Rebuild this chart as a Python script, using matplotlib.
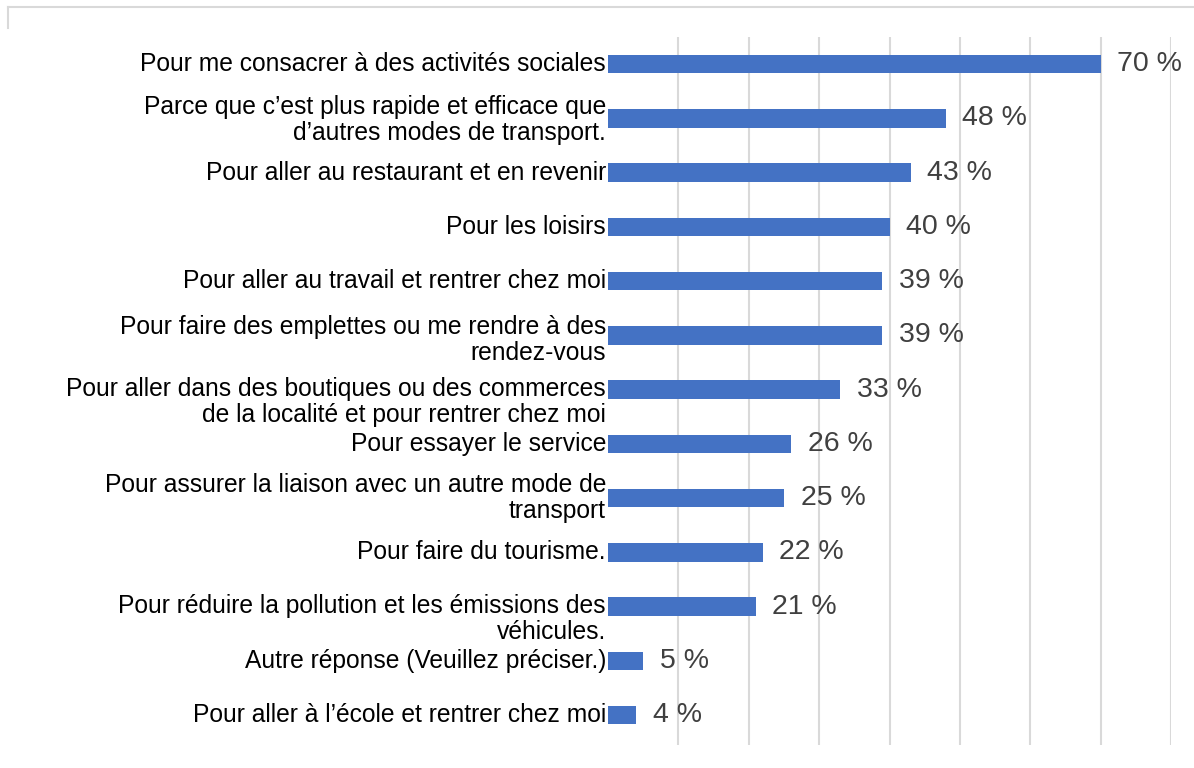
import matplotlib
matplotlib.use("Agg")
import matplotlib.pyplot as plt
from matplotlib.lines import Line2D
from matplotlib import transforms

plt.rcParams['font.family'] = ['Liberation Sans', 'DejaVu Sans']

categories = [
    "Pour me consacrer à des activités sociales",
    "Parce que c\u2019est plus rapide et efficace que\nd\u2019autres modes de transport.",
    "Pour aller au restaurant et en revenir",
    "Pour les loisirs",
    "Pour aller au travail et rentrer chez moi",
    "Pour faire des emplettes ou me rendre à des\nrendez-vous",
    "Pour aller dans des boutiques ou des commerces\nde la localité et pour rentrer chez moi",
    "Pour essayer le service",
    "Pour assurer la liaison avec un autre mode de\ntransport",
    "Pour faire du tourisme.",
    "Pour réduire la pollution et les émissions des\nvéhicules.",
    "Autre réponse (Veuillez préciser.)",
    "Pour aller à l\u2019école et rentrer chez moi",
]
values = [70, 48, 43, 40, 39, 39, 33, 26, 25, 22, 21, 5, 4]
value_labels = ["%d %%" % v for v in values]

# vertical nudge of the wrapped labels, in points (positive = up)
label_nudge = [0, -1, 0, 0, 0, -3, -9, 0, 0, 0, -9, 0, 0]

W, H = 1194, 768
fig = plt.figure(figsize=(W / 100, H / 100), dpi=100)
ax = fig.add_axes([608 / W, 1 - 745 / H, (1171 - 608) / W, (745 - 37) / H])

ypos = list(range(len(values)))
ax.barh(ypos, values, height=0.34, color='#4472C4', zorder=3)

ax.set_xlim(0, 80)
ax.set_ylim(len(values) - 0.45, -0.5)
ax.set_xticks(range(10, 81, 10))
ax.xaxis.grid(True, color='#d9d9d9', linewidth=1.5, zorder=0)
ax.tick_params(axis='x', length=0, labelbottom=False)
ax.set_yticks([])
for s in ax.spines.values():
    s.set_visible(False)

for y, lab, dy in zip(ypos, categories, label_nudge):
    off = transforms.offset_copy(ax.transData, fig=fig, x=-1.5, y=dy, units='points')
    ax.text(0, y, lab, transform=off, ha='right', va='center',
            fontsize=17.75, color='black', linespacing=1.1)

for y, v, lab in zip(ypos, values, value_labels):
    off = transforms.offset_copy(ax.transData, fig=fig, x=12, y=0, units='points')
    ax.text(v, y, lab, transform=off, ha='left', va='center',
            fontsize=20.5, color='#404040')

# cropped chart frame at the top left
fig.add_artist(Line2D([8 / W, 1.0], [1 - 7 / H, 1 - 7 / H], color='#d9d9d9', lw=1.5))
fig.add_artist(Line2D([8 / W, 8 / W], [1 - 7 / H, 1 - 28 / H], color='#d9d9d9', lw=1.5))

fig.savefig('out.png', dpi=100)
